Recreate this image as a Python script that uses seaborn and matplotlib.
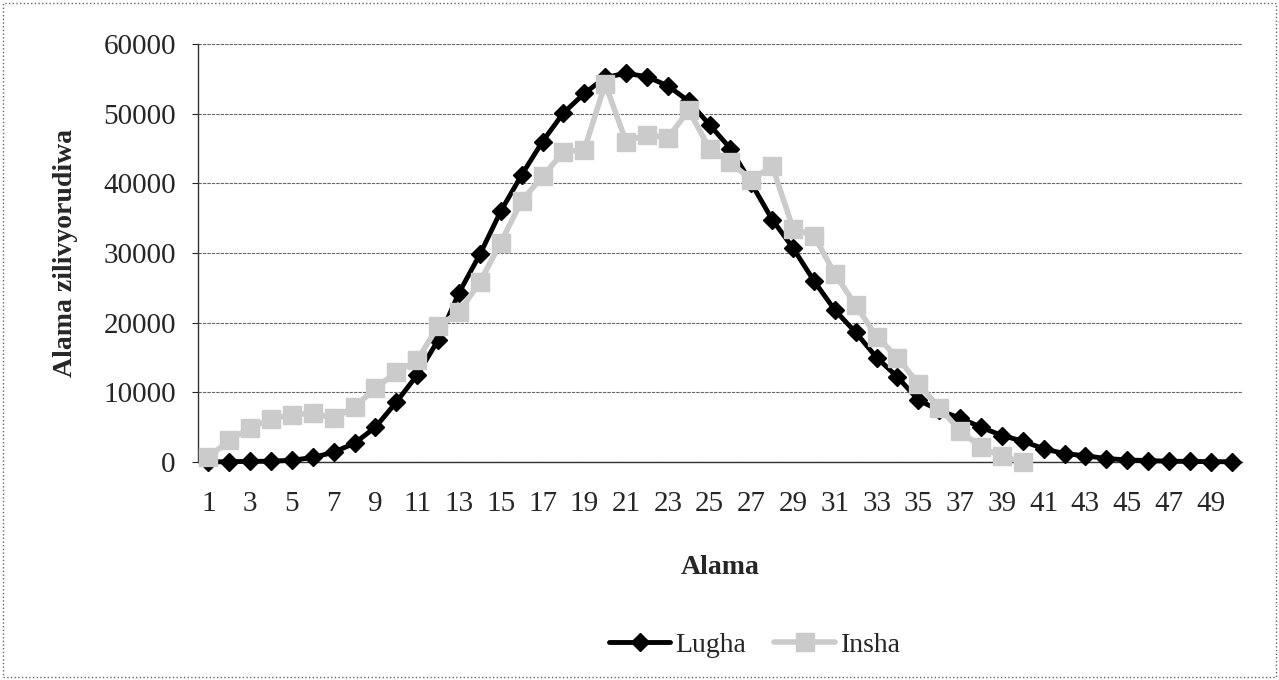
import numpy as np
import pandas as pd
import matplotlib
matplotlib.use('Agg')
import matplotlib.pyplot as plt
import seaborn as sns
from matplotlib.patches import Rectangle

# alama (scores) on the x axis
alama_lugha = list(range(1, 51))
lugha = [0, 50, 80, 120, 250, 650, 1400, 2700, 5000, 8600,
         12500, 17500, 24300, 29800, 36000, 41200, 46000, 50100, 52900, 55200,
         55800, 55300, 54000, 51800, 48400, 45000, 40000, 34800, 30700, 26000,
         21800, 18600, 15000, 12200, 8900, 7400, 6300, 5000, 3800, 3000,
         1900, 1200, 900, 500, 300, 200, 120, 80, 50, 30]

alama_insha = list(range(1, 41))
insha = [700, 3100, 4900, 6200, 6800, 7000, 6300, 7900, 10600, 12900,
         14600, 19500, 21500, 25800, 31500, 37500, 41000, 44500, 44800, 54300,
         46000, 47000, 46500, 50500, 45000, 43000, 40500, 42500, 33500, 32500,
         27000, 22500, 18000, 15000, 11200, 7800, 4500, 2100, 800, 0]

ytiks = [0, 10000, 20000, 30000, 40000, 50000, 60000]

sns.set_style('white')
plt.rcParams['font.family'] = ['Liberation Serif', 'DejaVu Serif']

fig = plt.figure(figsize=(12.79, 6.8), dpi=100)
ax = fig.add_axes([198/1279, 1-462/680, (1242-198)/1279, (462-44)/680])

df_l = pd.DataFrame({'Alama': alama_lugha, 'Idadi': lugha})
df_i = pd.DataFrame({'Alama': alama_insha, 'Idadi': insha})

sns.lineplot(data=df_l, x='Alama', y='Idadi', ax=ax, color='black', lw=3.5,
             marker='D', markersize=9, markeredgecolor='black', mew=1,
             label='Lugha', clip_on=False, zorder=3)
sns.lineplot(data=df_i, x='Alama', y='Idadi', ax=ax, color='#cbcbcb', lw=4,
             marker='s', markersize=13, markeredgecolor='#cbcbcb', mew=1,
             label='Insha', clip_on=False, zorder=4)

ax.set_xlim(0.5, 50.5)
ax.set_ylim(0, 60000)
ax.set_yticks(ytiks)
ax.set_xticks(range(1, 51, 2))
ax.set_xticks(np.arange(0.5, 51, 1), minor=True)
ax.tick_params(axis='x', which='major', length=0, labelsize=21, pad=21)
ax.tick_params(axis='x', which='minor', length=6, width=0.8, color='#333', direction='out')
ax.tick_params(axis='y', length=4, width=0.8, labelsize=21, pad=12, direction='out', left=True)

ax.yaxis.grid(True, color='#666', lw=0.8, linestyle=(0, (3, 1)))
ax.xaxis.grid(False)
for s in ['top', 'right']:
    ax.spines[s].set_visible(False)
for s in ['left', 'bottom']:
    ax.spines[s].set_color('#333')
    ax.spines[s].set_linewidth(1)

ax.set_xlabel('Alama', fontsize=20, fontweight='bold')
ax.set_ylabel('Alama zilivyorudiwa', fontsize=20, fontweight='bold')
ax.xaxis.set_label_coords(0.5, -0.2225)
ax.yaxis.set_label_coords(-0.115, 0.5)

ax.get_legend().remove()
h, l = ax.get_legend_handles_labels()
fig.legend(h, l, loc='center', bbox_to_anchor=(755/1279, 1-645/680), ncol=2,
           frameon=False, fontsize=20, handlelength=2.2, columnspacing=1.0,
           handletextpad=0.2)

fig.patches.append(Rectangle((3/1279, 3/680), 1-6/1279, 1-6/680, transform=fig.transFigure,
                             fill=False, ec='#666', lw=1, linestyle=':'))

fig.savefig('out.png', dpi=100)
